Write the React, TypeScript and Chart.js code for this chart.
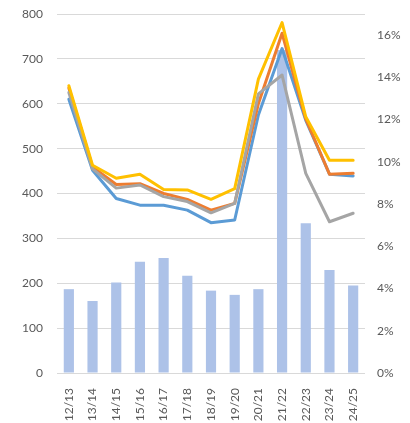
import React, { useEffect, useRef } from "react";
import { Chart, registerables } from "chart.js";

Chart.register(...registerables);

const seasons = ["12/13", "13/14", "14/15", "15/16", "16/17", "17/18", "18/19", "19/20", "20/21", "21/22", "22/23", "23/24", "24/25"];

// Share per season (right axis, %)
const shareValues = [3.97, 3.41, 4.28, 5.27, 5.44, 4.61, 3.9, 3.7, 3.97, 15.3, 7.09, 4.88, 4.14];

// Price series (left axis)
const blueSeries = [610, 452, 389, 374, 374, 363, 335, 341, 575, 723, 563, 443, 439];
const orangeSeries = [635, 459, 420, 422, 400, 387, 363, 378, 600, 757, 566, 443, 445];
const graySeries = [625, 455, 412, 419, 393, 382, 357, 378, 622, 664, 445, 337, 356];
const yellowSeries = [640, 463, 434, 443, 409, 408, 387, 411, 655, 781, 571, 474, 474];

const leftTicks = [0, 100, 200, 300, 400, 500, 600, 700, 800];
const rightTicks = [0, 2, 4, 6, 8, 10, 12, 14, 16];

const FONT = "Lato, 'Open Sans', sans-serif";
const TEXT = "#595959";
const GRID = "#d9d9d9";

export default function App() {
  const canvasRef = useRef<HTMLCanvasElement | null>(null);

  useEffect(() => {
    const canvas = canvasRef.current;
    if (!canvas) return;

    const line = (data: number[], color: string, order: number) => ({
      type: "line" as const,
      data,
      yAxisID: "y",
      borderColor: color,
      backgroundColor: color,
      borderWidth: 3,
      pointRadius: 0,
      tension: 0,
      borderJoinStyle: "round" as const,
      borderCapStyle: "round" as const,
      order,
    });

    const chart = new Chart(canvas, {
      type: "bar",
      data: {
        labels: seasons,
        datasets: [
          {
            type: "bar",
            data: shareValues,
            yAxisID: "y1",
            backgroundColor: "#adc2e8",
            barPercentage: 0.43,
            categoryPercentage: 1,
            order: 10,
          } as any,
          line(blueSeries, "#5b9bd5", 4),
          line(orangeSeries, "#ed7d31", 3),
          line(graySeries, "#a5a5a5", 2),
          line(yellowSeries, "#ffc000", 1),
        ],
      },
      options: {
        animation: false,
        responsive: false,
        devicePixelRatio: 1,
        layout: { padding: { top: 14, left: 0, right: 0, bottom: 0 } },
        plugins: { legend: { display: false }, tooltip: { enabled: false } },
        scales: {
          x: {
            offset: true,
            grid: { display: false },
            border: { display: false },
            ticks: {
              autoSkip: false,
              maxRotation: 90,
              minRotation: 90,
              padding: 7,
              color: TEXT,
              font: { family: FONT, size: 12 },
            },
            afterFit: (scale: any) => {
              scale.height = 50;
            },
          },
          y: {
            position: "left",
            min: 0,
            max: 800,
            grid: { color: GRID, lineWidth: 1, drawTicks: true, tickLength: 11, tickColor: "rgba(0,0,0,0)" },
            border: { display: false },
            ticks: {
              padding: 3,
              color: TEXT,
              font: { family: FONT, size: 12 },
            },
            afterBuildTicks: (scale: any) => {
              scale.ticks = leftTicks.map((v) => ({ value: v }));
            },
            afterFit: (scale: any) => {
              scale.width = 57;
            },
          },
          y1: {
            position: "right",
            min: 0,
            max: 17,
            grid: {
              display: true,
              drawOnChartArea: false,
              drawTicks: true,
              tickLength: 9,
              color: "rgba(0,0,0,0)",
              tickColor: "rgba(0,0,0,0)",
            },
            border: { display: false },
            ticks: {
              padding: 3,
              color: TEXT,
              font: { family: FONT, size: 12 },
              callback: (v: any) => `${v}%`,
            },
            afterBuildTicks: (scale: any) => {
              scale.ticks = rightTicks.map((v) => ({ value: v }));
            },
            afterFit: (scale: any) => {
              scale.width = 45;
            },
          },
        },
      } as any,
    });

    return () => chart.destroy();
  }, []);

  return (
    <div style={{ position: "fixed", left: 0, top: 0, width: 410, height: 423, background: "#ffffff" }}>
      <canvas ref={canvasRef} width={410} height={423} style={{ display: "block" }} />
    </div>
  );
}
